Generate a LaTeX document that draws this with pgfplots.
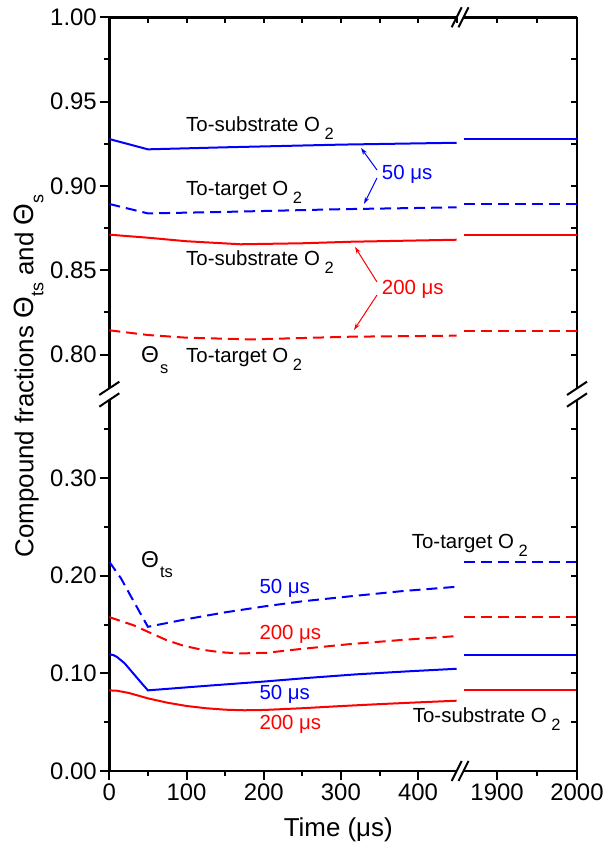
\documentclass[border=0pt]{standalone}
\usepackage{pgfplots}
\pgfplotsset{compat=1.18}
\usepackage{fontspec}
\setmainfont{Liberation Sans}
\usetikzlibrary{arrows.meta}
\definecolor{pblue}{RGB}{0,0,255}
\definecolor{pred}{RGB}{255,0,0}
\newcommand{\ticksize}{\fontsize{24}{28}\selectfont}
\newcommand{\annsize}{\fontsize{20.5}{24}\selectfont}
\newcommand{\subsize}{\fontsize{16.5}{18}\selectfont}
\newcommand{\labsize}{\fontsize{26}{30}\selectfont}
\newcommand{\Th}{{\fontsize{23}{26}\selectfont Θ}}
\newcommand{\Os}{O\hspace{4.5bp}\raisebox{-7.5bp}{\subsize 2}}
\pgfplotsset{
  every non boxed x axis/.style={},
  every non boxed y axis/.style={},
  base/.style={scale only axis, anchor=south west,
    axis line style={-, line width=2.6bp, black},
    every tick/.style={black, line width=2bp},
    tick label style={font=\ticksize, black}},
  outticks/.style={tick align=outside, major tick length=9bp, minor tick length=5bp},
  inticks/.style={tick align=inside, major tick length=6bp, minor tick length=6bp},
  leftpart/.style={at={(109.3bp,#1)}, width=347.4bp, xmin=0, xmax=450},
  rightpart/.style={at={(463.5bp,#1)}, width=113.5bp, xmin=1858, xmax=2000},
  upper/.style={height=371bp, ymin=0.78, ymax=1.0},
  lower/.style={height=371bp, ymin=0, ymax=0.38},
  solidline/.style={line width=2bp},
  dashline/.style={line width=2bp, dash pattern=on 11bp off 6bp},
}
\begin{document}
\begin{tikzpicture}
\path[use as bounding box] (0,0) rectangle (604bp,850bp);

% ---------- upper left (Theta_s) ----------
\begin{axis}[base, leftpart=461.7bp, upper, outticks,
  axis x line=none, axis y line=left, xtick=\empty,
  ytick={0.80,0.85,0.90,0.95,1.00}, yticklabels={0.80,0.85,0.90,0.95,1.00},
  minor ytick={0.825,0.875,0.925,0.975}]
\addplot[pblue, solidline] coordinates {(0,0.9278) (50,0.9217) (150,0.9229) (300,0.9245) (450,0.9256)};
\addplot[pblue, dashline] coordinates {(0,0.8893) (50,0.8837) (150,0.8846) (300,0.8862) (450,0.8873)};
\addplot[pred, solidline] coordinates {(0,0.8711) (50,0.8693) (100,0.8672) (170,0.8654) (250,0.8660) (313,0.8669) (450,0.8681)};
\addplot[pred, dashline] coordinates {(0,0.8144) (50,0.8116) (100,0.8100) (183,0.8090) (250,0.8098) (313,0.8106) (450,0.8112)};
\end{axis}
\begin{axis}[base, leftpart=461.7bp, upper, inticks,
  axis x line=top, axis y line=none, ytick=\empty,
  xtick={0,50,100,150,200,250,300,350,400,450}, xticklabels={}]
\end{axis}

% ---------- upper right ----------
\begin{axis}[base, rightpart=461.7bp, upper, inticks,
  axis x line=top, axis y line=right,
  xtick={1900,1950,2000}, xticklabels={},
  ytick={0.8,0.825,0.85,0.875,0.9,0.925,0.95,0.975,1}, yticklabels={}]
\addplot[pblue, solidline] coordinates {(1858,0.9278) (2000,0.9278)};
\addplot[pblue, dashline] coordinates {(1858,0.8893) (2000,0.8893)};
\addplot[pred, solidline] coordinates {(1858,0.8709) (2000,0.8709)};
\addplot[pred, dashline] coordinates {(1858,0.8141) (2000,0.8141)};
\end{axis}

% ---------- lower left (Theta_ts) ----------
\begin{axis}[base, leftpart=79bp, lower, outticks,
  axis x line=bottom, axis y line=left,
  xtick={0,100,200,300,400}, xticklabels={0,100,200,300,400},
  minor xtick={50,150,250,350},
  ytick={0,0.1,0.2,0.3}, yticklabels={0.00,0.10,0.20,0.30},
  minor ytick={0.05,0.15,0.25,0.35}]
\addplot[pblue, dashline] coordinates {(0,0.2143) (15,0.1975) (30,0.1760) (50,0.1477) (100,0.1555) (150,0.1625) (200,0.1685) (250,0.1738) (313,0.1790) (380,0.1843) (450,0.1887)};
\addplot[pred, dashline] coordinates {(0,0.1576) (31,0.1494) (50,0.1426) (74,0.1341) (96,0.1283) (120,0.1242) (145,0.1216) (169,0.1204) (204,0.1211) (247,0.1249) (312,0.1300) (380,0.1343) (450,0.1382)};
\addplot[pblue, solidline] coordinates {(0,0.1194) (5,0.1188) (10,0.1168) (20,0.1102) (31,0.1000) (42,0.0898) (50,0.0826) (125,0.0872) (200,0.0916) (260,0.0955) (320,0.0990) (385,0.1020) (450,0.1047)};
\addplot[pred, solidline] coordinates {(0,0.0826) (10,0.0822) (25,0.0800) (50,0.0744) (75,0.0700) (100,0.0666) (125,0.0643) (150,0.0628) (175,0.0622) (200,0.0625) (250,0.0643) (300,0.0665) (350,0.0685) (400,0.0703) (450,0.0720)};
\end{axis}

% ---------- lower right ----------
\begin{axis}[base, rightpart=79bp, lower, outticks,
  axis x line=bottom, axis y line=none, ytick=\empty,
  xtick={1900,2000}, xticklabels={1900,2000}, minor xtick={1950}]
\addplot[pblue, dashline] coordinates {(1858,0.2143) (2000,0.2143)};
\addplot[pred, dashline] coordinates {(1858,0.1573) (2000,0.1573)};
\addplot[pblue, solidline] coordinates {(1858,0.1190) (2000,0.1190)};
\addplot[pred, solidline] coordinates {(1858,0.0826) (2000,0.0826)};
\end{axis}
\begin{axis}[base, rightpart=79bp, lower, inticks,
  axis y line=right, axis x line=none, xtick=\empty,
  ytick={0,0.05,0.1,0.15,0.2,0.25,0.3,0.35}, yticklabels={}]
\end{axis}

% ---------- axis breaks ----------
\begin{scope}[line width=2bp, black]
\draw (451.7bp,69bp) -- (461.7bp,89bp);
\draw (458.5bp,69bp) -- (468.5bp,89bp);
\draw (451.7bp,822.7bp) -- (461.7bp,842.7bp);
\draw (458.5bp,822.7bp) -- (468.5bp,842.7bp);
\draw (99.3bp,455bp) -- (119.3bp,468.3bp);
\draw (99.3bp,443.3bp) -- (119.3bp,456.7bp);
\draw (567bp,455bp) -- (587bp,468.3bp);
\draw (567bp,443.3bp) -- (587bp,456.7bp);
\end{scope}

% ---------- axis labels ----------
\node[anchor=base, inner sep=0, font=\labsize] at (338.3bp,13.3bp) {Time (μs)};
\node[rotate=90, anchor=base, inner sep=0, font=\labsize] at (33.3bp,474bp)
  {Compound fractions {\fontsize{28}{30}\selectfont Θ}\raisebox{-10bp}{\fontsize{18}{18}\selectfont ts} and {\fontsize{28}{30}\selectfont Θ}\raisebox{-10bp}{\fontsize{18}{18}\selectfont s}};

% ---------- annotations ----------
\begin{scope}[every node/.style={anchor=base west, inner sep=0, font=\annsize}]
\node at (186bp,718bp) {To-substrate \Os};
\node at (186bp,654bp) {To-target \Os};
\node at (186bp,584.3bp) {To-substrate \Os};
\node at (186bp,487bp) {To-target \Os};
\node at (141bp,487bp) {\Th\hspace{1bp}\raisebox{-11bp}{\subsize s}};
\node[text=pblue] at (381.7bp,670bp) {50 μs};
\node[text=pred] at (381.7bp,555bp) {200 μs};
\node at (411.7bp,301bp) {To-target \Os};
\node at (412.7bp,127.3bp) {To-substrate \Os};
\node at (141bp,282bp) {\Th\hspace{1bp}\raisebox{-10bp}{\subsize ts}};
\node[text=pblue] at (259.3bp,256.7bp) {50 μs};
\node[text=pred] at (259.3bp,210bp) {200 μs};
\node[text=pblue] at (259.3bp,150.7bp) {50 μs};
\node[text=pred] at (259.3bp,120.7bp) {200 μs};
\end{scope}

% ---------- arrows ----------
\draw[pblue, line width=1bp, -{Stealth[length=7bp,width=4.5bp]}] (377bp,680bp) -- (361bp,702bp);
\draw[pblue, line width=1bp, -{Stealth[length=7bp,width=4.5bp]}] (377bp,672bp) -- (364bp,646bp);
\draw[pred, line width=1bp, -{Stealth[length=7bp,width=4.5bp]}] (377bp,568bp) -- (355bp,603bp);
\draw[pred, line width=1bp, -{Stealth[length=7bp,width=4.5bp]}] (377bp,555bp) -- (354bp,520bp);
\end{tikzpicture}
\end{document}
